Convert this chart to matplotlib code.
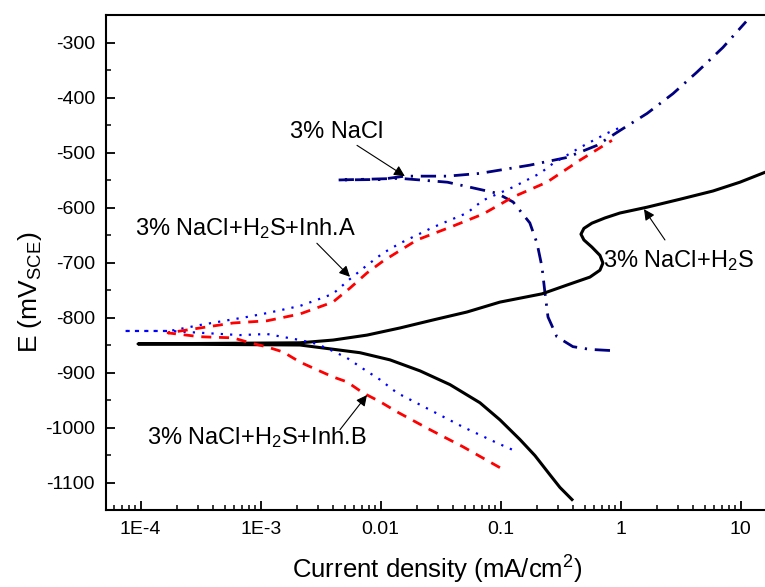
import numpy as np
import matplotlib
matplotlib.use("Agg")
import matplotlib.pyplot as plt
from matplotlib.ticker import MultipleLocator, FixedLocator, FixedFormatter, LogLocator, NullFormatter

plt.rcParams['font.family'] = ['Liberation Sans', 'DejaVu Sans']
plt.rcParams['mathtext.fontset'] = 'custom'
plt.rcParams['mathtext.rm'] = 'Liberation Sans'
plt.rcParams['mathtext.it'] = 'Liberation Sans:italic'
plt.rcParams['mathtext.bf'] = 'Liberation Sans:bold'
plt.rcParams['axes.unicode_minus'] = False

# Potentiodynamic polarization curves: current density (mA/cm2) vs E (mV vs SCE)
# each curve runs from the cathodic end, through Ecorr, to the anodic end
nacl_i = [0.815, 0.555, 0.40, 0.294, 0.248, 0.234, 0.221, 0.201, 0.175, 0.127,
          0.093, 0.036, 0.0145, 0.0044, 0.0099, 0.0159, 0.036, 0.067, 0.175,
          0.357, 0.635, 0.987, 1.66, 2.73, 4.32, 7.12, 11.1]
nacl_E = [-860, -858, -853, -835, -799, -755, -708, -665, -628, -590,
          -574, -554, -547, -550, -549, -543, -543, -538, -523,
          -509, -487, -460, -429, -393, -354, -309, -262]

h2s_i = [0.393, 0.312, 0.2575, 0.193, 0.145, 0.0986, 0.0672, 0.0378, 0.02126,
         0.01195, 0.00672, 0.00378, 0.002125, 9.5e-5,
         0.002125, 0.00402, 0.00769, 0.0145, 0.0273, 0.0524, 0.0986, 0.221,
         0.357, 0.555, 0.672, 0.712, 0.672, 0.576, 0.494, 0.467, 0.494, 0.576,
         0.740, 0.987, 1.656, 3.12, 5.88, 9.86, 15.96]
h2s_E = [-1131, -1109, -1086, -1051, -1022, -986, -955, -922, -897,
         -877, -864, -857, -850, -848,
         -846, -841, -832, -819, -804.5, -790, -772, -757,
         -741, -726.5, -714, -701, -687, -672, -659, -648.5, -638, -628.5,
         -619, -610, -599.5, -585, -570, -554, -536]

inh_a_i = [0.124, 0.0931, 0.0485, 0.0258, 0.01368, 0.00987, 0.00712, 0.00524,
           0.0040, 0.00294, 0.002125, 0.001129, 0.000672, 0.000175, 7.12e-5,
           0.000175, 0.000313, 0.000769, 0.001129, 0.002125, 0.00294, 0.0040,
           0.00555, 0.00769, 0.01045, 0.0145, 0.0273, 0.0524, 0.0712, 0.1266,
           0.2126, 0.273, 0.458, 0.769, 1.006]
inh_a_E = [-1040, -1028, -999, -968, -937, -913, -893, -873.5,
           -861, -848, -841, -830, -832, -824.5, -824.5,
           -824.5, -813.6, -799, -792, -779, -768, -757,
           -730, -705, -683, -665, -636, -610, -587, -563,
           -538, -520, -491, -465, -454]

inh_b_i = [0.0986, 0.0485, 0.0258, 0.01368, 0.00987, 0.00712, 0.00524, 0.0040,
           0.00294, 0.002125, 0.001535, 0.001129, 0.000815, 0.000588, 0.000313,
           0.000169, 0.000313, 0.000588, 0.001129, 0.002125, 0.0040, 0.00555,
           0.00769, 0.01045, 0.02007, 0.0378, 0.0712, 0.1266, 0.243, 0.458, 0.846]
inh_b_E = [-1073, -1035, -1004, -971.5, -953, -937, -917, -908,
           -895, -881, -862.6, -853.5, -846, -837, -835,
           -828, -819, -810, -806, -793.6, -772, -746.5,
           -719, -697.5, -659, -636, -612, -581, -554, -514, -478]

xtick_vals = [1e-4, 1e-3, 0.01, 0.1, 1, 10]
xtick_labels = ['1E-4', '1E-3', '0.01', '0.1', '1', '10']

fig = plt.figure(figsize=(7.65, 5.87), dpi=100)
ax = fig.add_axes([106 / 765, 1 - 510 / 587, 659 / 765, 495 / 587])

ax.plot(nacl_i, nacl_E, color='#000080', lw=2.0, ls=(0, (5.5, 2.8, 0.8, 2.8)))
ax.plot(h2s_i, h2s_E, color='black', lw=2.2, ls='-')
ax.plot(inh_a_i, inh_a_E, color='#0000FF', lw=1.6, ls=(0, (1.0, 3.2)))
ax.plot(inh_b_i, inh_b_E, color='#FF0000', lw=2.0, ls=(0, (3.6, 2.8)))

ax.set_xscale('log')
ax.set_xlim(5.14e-5, 15.96)
ax.set_ylim(-1150, -250)

ax.xaxis.set_major_locator(FixedLocator(xtick_vals))
ax.xaxis.set_major_formatter(FixedFormatter(xtick_labels))
ax.xaxis.set_minor_locator(LogLocator(base=10, subs=np.arange(2, 10)))
ax.xaxis.set_minor_formatter(NullFormatter())
ax.yaxis.set_major_locator(MultipleLocator(100))
ax.yaxis.set_minor_locator(MultipleLocator(50))

ax.tick_params(which='both', direction='in', top=False, right=False,
               labelsize=14, width=1.3)
ax.tick_params(which='major', length=6.5)
ax.tick_params(which='minor', length=3.5, width=1.1)
ax.tick_params(axis='x', pad=8)
ax.tick_params(axis='y', pad=8)

for side in ['left', 'bottom', 'top']:
    ax.spines[side].set_linewidth(1.5)
ax.spines['right'].set_visible(False)

ax.set_xlabel('Current density (mA/cm$^2$)', fontsize=18.5)
ax.set_ylabel(r'E (mV$_{\mathrm{SCE}}$)', fontsize=19)
ax.xaxis.set_label_coords(0.502, -0.088)
ax.yaxis.set_label_coords(-0.094, 0.44)

arrow = dict(arrowstyle='-|>', color='black', lw=0.8, mutation_scale=16,
             shrinkA=0, shrinkB=0)
label_fs = 17

ax.text(0.001754, -474, '3% NaCl', fontsize=label_fs, ha='left', va='baseline')
ax.annotate('', xy=(0.0159, -543), xytext=(0.00635, -487), arrowprops=arrow)

ax.text(8.96e-5, -650, '3% NaCl+H$_2$S+Inh.A', fontsize=label_fs,
        ha='left', va='baseline')
ax.annotate('', xy=(0.00555, -726), xytext=(0.00294, -665), arrowprops=arrow)

ax.text(0.000112, -1030, '3% NaCl+H$_2$S+Inh.B', fontsize=label_fs,
        ha='left', va='baseline')
ax.annotate('', xy=(0.00769, -941), xytext=(0.00458, -1004), arrowprops=arrow)

ax.text(0.712, -708, '3% NaCl+H$_2$S', fontsize=label_fs,
        ha='left', va='baseline')
ax.annotate('', xy=(1.565, -603), xytext=(2.34, -659), arrowprops=arrow)

fig.savefig('out.png', dpi=100)
